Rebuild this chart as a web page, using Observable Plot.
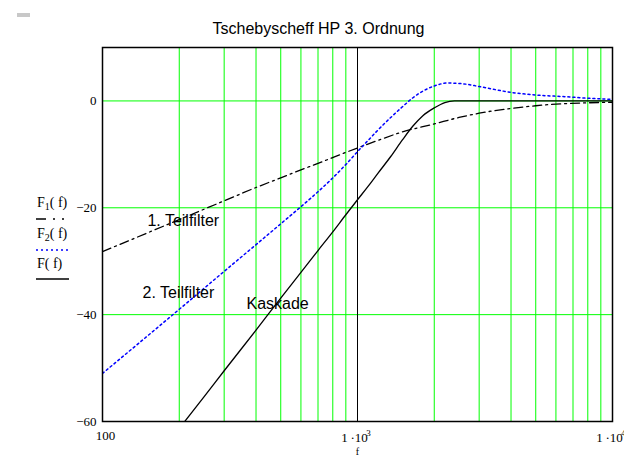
<!DOCTYPE html>
<html><head><meta charset="utf-8">
<script src="https://cdn.jsdelivr.net/npm/d3@7"></script>
<script src="https://cdn.jsdelivr.net/npm/@observablehq/plot@0.6"></script>
<style>
body{margin:0;background:#fff}
#chart{position:relative;width:624px;height:457px;overflow:hidden}
#mark{position:absolute;left:17px;top:13px;width:13px;height:4px;background:#c8c8c8;z-index:2}
</style>
</head><body><div id="chart"><div id="mark"></div></div>
<script>
// 1. Teilfilter (F1, dash-dot)
const freqF1 = [100, 150, 200, 300, 400, 500, 600, 700, 800, 1000, 1200, 1500, 2000, 2500, 3000, 4000, 5000, 6000, 8000, 10000];
const valF1  = [-28.2, -24.7, -22.2, -18.7, -16.2, -14.4, -12.9, -11.7, -10.6, -8.8, -7.4, -5.8, -4.3, -3.1, -2.3, -1.4, -0.9, -0.6, -0.35, -0.25];
// 2. Teilfilter (F2, blue dotted)
const freqF2 = [100, 150, 200, 300, 400, 500, 600, 700, 800, 900, 1000, 1100, 1200, 1350, 1500, 1650, 1800, 2000, 2250, 2600, 3000, 4000, 5000, 6500, 8000, 10000];
const valF2  = [-51, -44, -39, -31.9, -26.9, -23, -19.8, -17.0, -14.4, -11.9, -9.5, -7.4, -5.5, -3.1, -1.1, 0.6, 1.8, 2.8, 3.35, 3.2, 2.7, 1.6, 1.1, 0.8, 0.5, 0.3];
// Kaskade (F, solid)
const freqF  = [200, 250, 300, 400, 500, 600, 700, 800, 900, 1000, 1100, 1200, 1350, 1500, 1650, 1800, 2000, 2200, 2400, 3000, 5000, 10000];
const valF   = [-61.3, -55.4, -50.5, -42.9, -36.9, -32.1, -28.0, -24.5, -21.3, -18.5, -16.0, -13.6, -10.4, -7.3, -4.7, -2.8, -1.3, -0.3, 0, 0, 0, 0];

const gridX = [200, 300, 400, 500, 600, 700, 800, 900, 2000, 3000, 4000, 5000, 6000, 7000, 8000, 9000];
const gridY = [0, -20, -40];
const xTicks = [100, 1000, 10000];
const xTickBase = ["100", "1\u2009\u00b710", "1\u2009\u00b710"];
const xTickExp  = ["", "3", "4"];
const yTicks = [0, -20, -40, -60];

const annoText = ["1. Teilfilter", "2. Teilfilter", "Kaskade"];
const annoF    = [150, 143.6, 367];
const annoDb   = [-22.4, -36.0, -37.9];
const title = "Tschebyscheff HP 3. Ordnung";

const mk = (fs, vs) => fs.map((f, i) => ({f, v: vs[i]}));
const d1 = mk(freqF1, valF1), d2 = mk(freqF2, valF2), d3k = mk(freqF, valF);
const anno = annoText.map((t, i) => ({t, f: annoF[i], v: annoDb[i]}));
const ticks = xTicks.map((f, i) => ({f, base: xTickBase[i], exp: xTickExp[i]}));
const serif = "Liberation Serif";

const svg = Plot.plot({
  width: 624, height: 457,
  marginLeft: 102, marginRight: 12, marginTop: 47, marginBottom: 36,
  style: {background: "white", fontFamily: serif, fontSize: "13px", color: "black", overflow: "visible"},
  x: {type: "log", domain: [100, 10000], label: null, axis: null},
  y: {domain: [-60, 10], label: null, axis: null},
  marks: [
    Plot.ruleX(gridX, {stroke: "#00ff00", strokeWidth: 1}),
    Plot.ruleY(gridY, {stroke: "#00ff00", strokeWidth: 1}),
    Plot.ruleX([1000], {stroke: "black", strokeWidth: 1}),
    Plot.line(d1, {x: "f", y: "v", stroke: "black", strokeWidth: 1.3, strokeDasharray: "9,4,2,4", curve: "monotone-x", clip: true}),
    Plot.line(d2, {x: "f", y: "v", stroke: "#0000ff", strokeWidth: 1.5, strokeDasharray: "2,3", curve: "monotone-x", clip: true}),
    Plot.line(d3k, {x: "f", y: "v", stroke: "black", strokeWidth: 1.3, curve: "monotone-x", clip: true}),
    Plot.frame({stroke: "black", strokeWidth: 1.5}),
    // x tick labels
    Plot.text(ticks.filter(d => d.exp === ""), {x: "f", text: "base", frameAnchor: "bottom", dy: 18, dx: 3, fontFamily: serif, fontSize: 13, fill: "black"}),
    Plot.text(ticks.filter(d => d.exp !== ""), {x: "f", text: "base", frameAnchor: "bottom", dy: 20, dx: -3, fontFamily: serif, fontSize: 13, fill: "black"}),
    Plot.text(ticks.filter(d => d.exp !== ""), {x: "f", text: "exp", frameAnchor: "bottom", dy: 14, dx: 11, fontFamily: serif, fontSize: 9, fill: "black"}),
    // y tick labels
    Plot.text(yTicks, {y: d => d, text: d => d === 0 ? "0" : "\u2212" + Math.abs(d), frameAnchor: "left", textAnchor: "end", dx: -6, fontFamily: serif, fontSize: 13, fill: "black"}),
    Plot.text(anno, {x: "f", y: "v", text: "t", textAnchor: "start", lineAnchor: "middle", fontFamily: "Liberation Sans", fontSize: 16, fill: "black"}),
    Plot.text([title], {frameAnchor: "top", dx: -39, dy: -25, fontFamily: "Liberation Sans", fontSize: 16, fill: "black"}),
    Plot.text(["f"], {frameAnchor: "bottom", dy: 33, fontFamily: serif, fontSize: 10, fill: "black"})
  ]
});

// legend (decoration) on the left
const s = d3.select(svg);
const lg = s.append("g").attr("font-family", serif).attr("font-size", 14).attr("fill", "black").attr("text-anchor", "start");
function label(y, sub) {
  const t = lg.append("text").attr("x", 37).attr("y", y).attr("text-anchor", "start");
  t.append("tspan").text("F");
  if (sub) {
    t.append("tspan").attr("font-size", 10).attr("dy", 3).text(sub);
    t.append("tspan").attr("dy", -3).text("( f)");
  } else {
    t.append("tspan").text("( f)");
  }
}
label(207, "1");
label(238, "2");
label(268, null);
lg.append("line").attr("x1", 36).attr("x2", 69).attr("y1", 219).attr("y2", 219).attr("stroke", "black").attr("stroke-width", 1.3).attr("stroke-dasharray", "10,7,2,7,2,7");
lg.append("line").attr("x1", 36).attr("x2", 69).attr("y1", 250).attr("y2", 250).attr("stroke", "#0000ff").attr("stroke-width", 1.5).attr("stroke-dasharray", "2,3");
lg.append("line").attr("x1", 36).attr("x2", 69).attr("y1", 279).attr("y2", 279).attr("stroke", "black").attr("stroke-width", 1.3);

document.getElementById("chart").appendChild(svg);
svg.style.position = "absolute"; svg.style.left = "0"; svg.style.top = "0";
</script>
</body></html>
